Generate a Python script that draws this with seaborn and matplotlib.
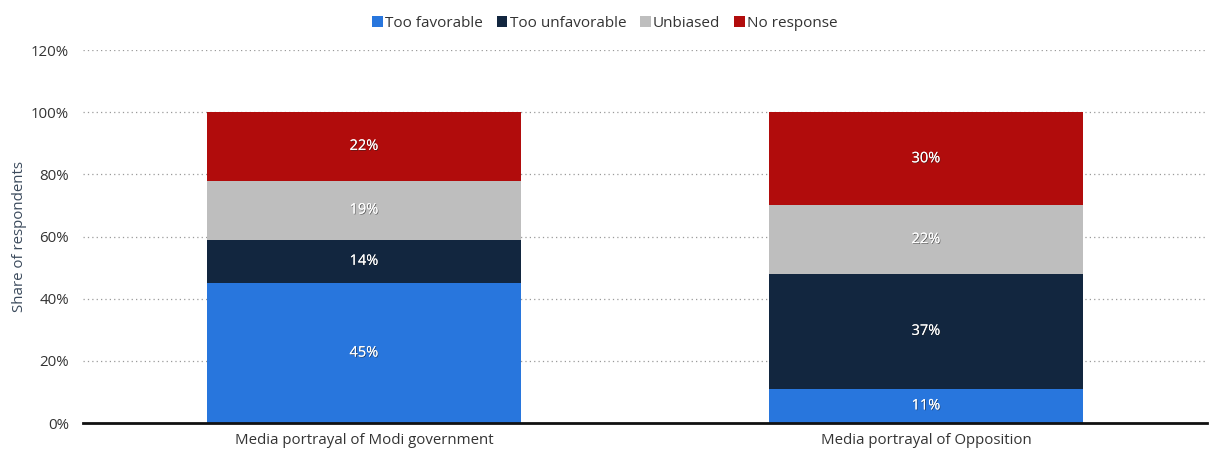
import matplotlib
matplotlib.use("Agg")
import matplotlib.pyplot as plt
import matplotlib.patheffects as pe
from matplotlib.patches import Patch
import numpy as np
import pandas as pd
import seaborn as sns

categories = ["Media portrayal of Modi government", "Media portrayal of Opposition"]
series = ["Too favorable", "Too unfavorable", "Unbiased", "No response"]
too_favorable = [45, 11]
too_unfavorable = [14, 37]
unbiased = [19, 22]
no_response = [22, 30]
colors = ["#2876dd", "#12263f", "#bebebe", "#b10c0c"]
yticks = [0, 20, 40, 60, 80, 100, 120]

values = [too_favorable, too_unfavorable, unbiased, no_response]

sns.set_theme(style="white")
plt.rcParams["font.family"] = ["Open Sans", "DejaVu Sans"]

fig = plt.figure(figsize=(12.10, 4.53), dpi=100)
ax = fig.add_axes([0.0686, 0.0662, 0.9289, 0.8234])

# cumulative tops, drawn from the highest layer down so each covers the one above
cum = np.cumsum(np.array(values), axis=0)
for i in reversed(range(len(series))):
    df = pd.DataFrame({"category": categories, "value": cum[i]})
    sns.barplot(data=df, x="category", y="value", color=colors[i],
                width=0.558, saturation=1, ax=ax, edgecolor="none", linewidth=0)

# segment labels
for i in range(len(series)):
    for j in range(len(categories)):
        bottom = cum[i][j] - values[i][j]
        ax.text(j, bottom + values[i][j] / 2, f"{values[i][j]}%",
                ha="center", va="center", color="white", fontsize=10.5,
                path_effects=[pe.withSimplePatchShadow(offset=(0.6, -0.6),
                                                       shadow_rgbFace="#222222", alpha=0.6),
                              pe.Normal()])

ax.set_xlim(-0.5, 1.5)
ax.set_ylim(0, 120)
ax.set_yticks(yticks)
ax.set_yticklabels([f"{t}%" for t in yticks])
ax.set_xlabel("")
ax.set_ylabel("Share of respondents", color="#3b4a5c", fontsize=10.8, labelpad=3)
ax.tick_params(axis="both", length=0, labelsize=10.8, colors="#333333")
ax.tick_params(axis="x", pad=7)
ax.tick_params(axis="y", pad=10)

for t in yticks[1:]:
    ax.axhline(t, color="#9a9a9a", linestyle=(0, (1, 2.5)), linewidth=0.9, zorder=0)
ax.set_axisbelow(True)

for s in ["top", "right", "left"]:
    ax.spines[s].set_visible(False)
ax.spines["bottom"].set_color("#111111")
ax.spines["bottom"].set_linewidth(2)

handles = [Patch(facecolor=c, edgecolor="none") for c in colors]
fig.legend(handles, series, loc="upper center", bbox_to_anchor=(0.5, 0.995), ncol=4,
           frameon=False, fontsize=11, handlelength=0.7, handleheight=0.7,
           handletextpad=0.15, columnspacing=0.9, labelcolor="#333333")

fig.savefig("out.png", dpi=100)
